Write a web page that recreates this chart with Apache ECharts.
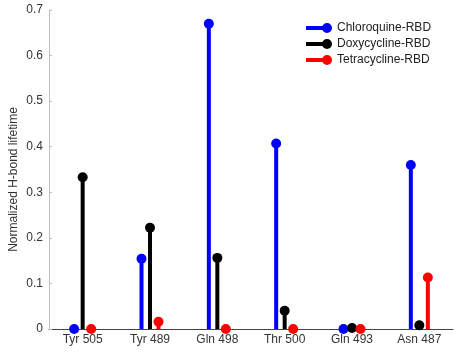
<!DOCTYPE html>
<html>
<head>
<meta charset="utf-8">
<script src="https://cdn.jsdelivr.net/npm/echarts@6/dist/echarts.min.js"></script>
<style>
  html, body { margin: 0; padding: 0; background: #fff; }
  #chart { width: 464px; height: 354px; }
</style>
</head>
<body>
<div id="chart"></div>
<script>
// residues on the x axis
var residues = ['Tyr 505', 'Tyr 489', 'Gln 498', 'Thr 500', 'Gln 493', 'Asn 487'];
// normalized H-bond lifetime per complex
var chloroquine = [0, 0.154, 0.67, 0.407, 0, 0.36];
var doxycycline = [0.333, 0.222, 0.156, 0.04, 0.002, 0.008];
var tetracycline = [0, 0.016, 0, 0, 0, 0.113];
var yTicks = [0, 0.1, 0.2, 0.3, 0.4, 0.5, 0.6, 0.7];

var groups = [
    { name: 'Chloroquine-RBD', color: '#0000ff', data: chloroquine, offset: -8.5 },
    { name: 'Doxycycline-RBD', color: '#000000', data: doxycycline, offset: 0 },
    { name: 'Tetracycline-RBD', color: '#ff0000', data: tetracycline, offset: 8.5 }
];

var fontFam = 'Liberation Sans, Arial, sans-serif';
var legendIcon = 'path://M0,3 L20,3 L20,7 L0,7 Z M16,5 A5,5 0 1 1 26,5 A5,5 0 1 1 16,5 Z';

var series = [];
// stems
groups.forEach(function (g) {
    series.push({
        name: g.name,
        type: 'bar',
        data: g.data,
        barWidth: 4,
        barGap: '112.5%',
        itemStyle: { color: g.color },
        z: 2
    });
});
// markers on top of the stems
groups.forEach(function (g) {
    series.push({
        name: g.name,
        type: 'scatter',
        data: g.data,
        symbol: 'circle',
        symbolSize: 10,
        symbolOffset: [g.offset, 0],
        itemStyle: { color: g.color, opacity: 1 },
        z: 3
    });
});

var chart = echarts.init(document.getElementById('chart'));
chart.setOption({
    animation: false,
    textStyle: { fontFamily: fontFam },
    grid: { left: 49, right: 11, top: 10, bottom: 25, containLabel: false, outerBoundsMode: 'none' },
    legend: {
        orient: 'vertical',
        left: 306,
        top: 17,
        itemWidth: 26,
        itemHeight: 10,
        itemGap: 4,
        padding: [5, 5, 5, 0],
        textStyle: { fontSize: 12, color: '#222', fontFamily: fontFam },
        data: groups.map(function (g) {
            return { name: g.name, icon: legendIcon, itemStyle: { color: g.color } };
        })
    },
    xAxis: {
        type: 'category',
        data: residues,
        axisLine: { lineStyle: { color: '#444', width: 1 } },
        axisTick: { show: false },
        axisLabel: { color: '#333', fontSize: 12, margin: 5 },
        splitLine: { show: false }
    },
    yAxis: {
        type: 'value',
        min: 0,
        max: yTicks[yTicks.length - 1],
        interval: 0.1,
        name: 'Normalized H-bond lifetime',
        nameLocation: 'middle',
        nameGap: 29,
        nameMoveOverlap: false,
        nameTextStyle: { color: '#333', fontSize: 12, padding: [0, 20, 0, 0] },
        axisLine: { show: true, lineStyle: { color: '#bbb', width: 1 } },
        axisTick: { show: true, inside: true, length: 3, lineStyle: { color: '#bbb' } },
        axisLabel: {
            color: '#333',
            fontSize: 12,
            margin: 6,
            formatter: function (v) { return String(Math.round(v * 10) / 10); }
        },
        splitLine: { show: false }
    },
    series: series
});
</script>
</body>
</html>
